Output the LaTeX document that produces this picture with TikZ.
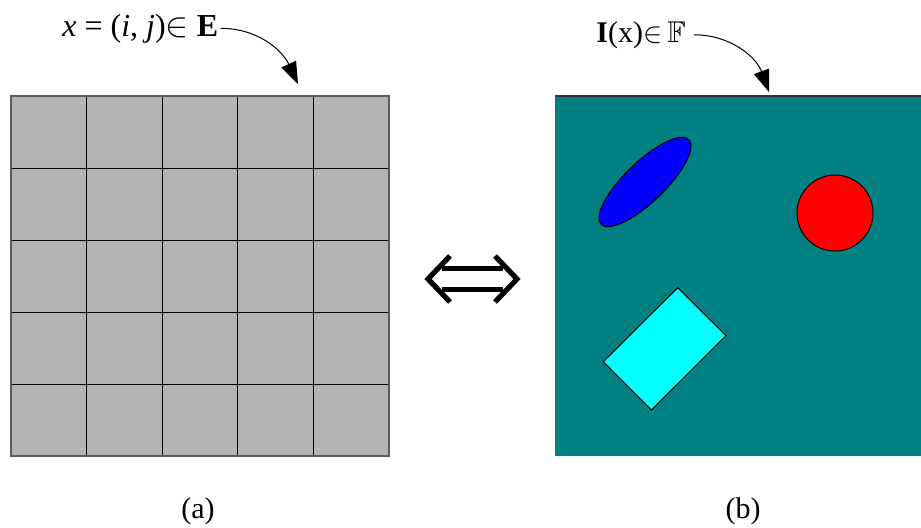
\documentclass[tikz,border=0pt]{standalone}
\usepackage{fontspec}
\setmainfont{Liberation Serif}
\usepackage{amsmath,amssymb}
\definecolor{cellgray}{RGB}{179,179,179}
\definecolor{fieldteal}{RGB}{0,128,128}
\definecolor{rectcyan}{RGB}{0,255,255}
\definecolor{ellblue}{RGB}{0,0,255}
\definecolor{discred}{RGB}{255,0,0}
\usetikzlibrary{arrows.meta,positioning,calc}
\tikzset{
  pointer/.style={-{Triangle[length=11pt,width=8pt]}, line width=0.5pt},
  shapeedge/.style={draw=black, line width=0.5pt},
  equivline/.style={line width=2.6pt, miter limit=10},
  caption/.style={font=\fontsize{15}{18}\selectfont}
}
\begin{document}
\begin{tikzpicture}[x=0.5pt,y=-0.5pt]
  \useasboundingbox (0,0) rectangle (921,527);
  % (a) domain grid
  \fill[cellgray] (11,96) rectangle (389,456);
  \foreach \i in {1,...,4} {
    \draw[line width=0.5pt] ({11+\i*75.6},96) -- ({11+\i*75.6},456);
    \draw[line width=0.5pt] (11,{96+\i*72}) -- (389,{96+\i*72});
  }
  \draw[line width=0.7pt, black!65] (11,96) rectangle (389,456);
  \node[caption, anchor=base west, inner sep=1pt, font=\fontsize{16}{19}\selectfont]
    (lbla) at (60,36)
    {\textit{x} = (\textit{i}, \textit{j})$\in$ \textbf{E}};
  \coordinate (tipa) at (298,84);
  \draw[pointer] (lbla.east) to[out=0, in=115] (tipa);
  \node[caption] (capa) at (198,511) {(a)};
  % equivalence
  \coordinate (eqL) at (428,279);
  \coordinate (eqR) at (517,279);
  \draw[equivline] (eqL) ++(22,-23) -- (eqL) -- ++(22,23);
  \draw[equivline] (eqR) ++(-22,-23) -- (eqR) -- ++(-22,23);
  \draw[equivline] ($(eqL)+(14,-10.5)$) -- ($(eqR)+(-14,-10.5)$);
  \draw[equivline] ($(eqL)+(14,10.5)$) -- ($(eqR)+(-14,10.5)$);
  % (b) image field
  \fill[fieldteal] (555,96) rectangle (921,456);
  \draw[line width=0.8pt, black!80] (555,96) -- (921,96);
  \draw[shapeedge, fill=ellblue] (645,182) ellipse [x radius=61, y radius=20, rotate=44];
  \draw[shapeedge, fill=discred] (835,213) circle [radius=38];
  \draw[shapeedge, fill=rectcyan] (677.7,287.7) -- (726,335.7) -- (651.3,410)
    -- (603.3,361.7) -- cycle;
  \node[caption, anchor=base west, inner sep=1pt] (lblb) at (594,42)
    {\textbf{I}(x)$\in$\,$\mathbb{F}$};
  \coordinate (tipb) at (769,92);
  \draw[pointer] ($(lblb.east)+(6,0)$) to[out=0, in=110] (tipb);
  \node[caption] (capb) at (743,511) {(b)};
\end{tikzpicture}
\end{document}
